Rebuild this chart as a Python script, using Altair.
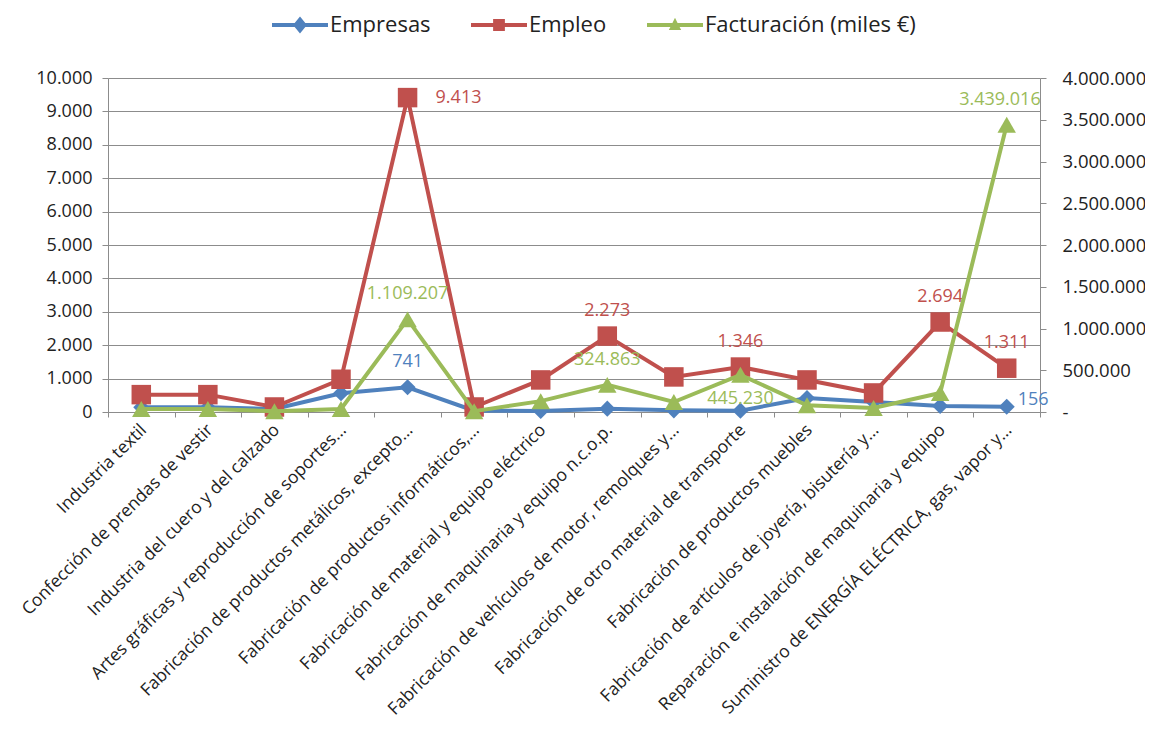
import altair as alt
import pandas as pd

FONT = "Open Sans"

categories = [
    "Industria textil",
    "Confección de prendas de vestir",
    "Industria del cuero y del calzado",
    "Artes gráficas y reproducción de soportes…",
    "Fabricación de productos metálicos, excepto…",
    "Fabricación de productos informáticos,…",
    "Fabricación de material y equipo eléctrico",
    "Fabricación de maquinaria y equipo n.c.o.p.",
    "Fabricación de vehículos de motor, remolques y…",
    "Fabricación de otro material de transporte",
    "Fabricación de productos muebles",
    "Fabricación de artículos de joyería, bisutería y…",
    "Reparación e instalación de maquinaria y equipo",
    "Suministro de ENERGÍA ELÉCTRICA, gas, vapor y…",
]
empresas = [140, 140, 90, 560, 741, 40, 30, 100, 50, 40, 420, 300, 180, 156]
empleo = [520, 520, 150, 980, 9413, 150, 960, 2273, 1050, 1346, 960, 570, 2694, 1311]
facturacion = [36000, 36000, 10000, 36000, 1109207, 10000, 130000, 324863,
               120000, 445230, 80000, 48000, 227000, 3439016]

series_names = ["Empresas", "Empleo", "Facturación (miles €)"]
series_colors = ["#4F81BD", "#C0504D", "#9BBB59"]
series_shapes = ["diamond", "square", "triangle-up"]
series_sizes = [260, 380, 340]

left_ticks = list(range(0, 10001, 1000))
right_ticks = list(range(0, 4000001, 500000))

# which points carry a data label, and where the label sits
data_labels = [
    ("Empresas", 4, "above"),
    ("Empresas", 13, "right"),
    ("Empleo", 4, "right-wide"),
    ("Empleo", 7, "above"),
    ("Empleo", 9, "above"),
    ("Empleo", 12, "above"),
    ("Empleo", 13, "above"),
    ("Facturación (miles €)", 4, "above"),
    ("Facturación (miles €)", 7, "above"),
    ("Facturación (miles €)", 9, "below"),
    ("Facturación (miles €)", 13, "above-left"),
]

values_by_series = {"Empresas": empresas, "Empleo": empleo,
                    "Facturación (miles €)": facturacion}
label_pos = {(s, i): p for s, i, p in data_labels}
rows = []
for s in series_names:
    for i, c in enumerate(categories):
        rows.append({"cat": c, "serie": s, "value": values_by_series[s][i],
                     "pos": label_pos.get((s, i), "")})
df = pd.DataFrame(rows)

GRID = "#8c8c8c"
TXT = "#222222"
dot_fmt = "replace(format(datum.value, ','), /,/g, '.')"

color_scale = alt.Scale(domain=series_names, range=series_colors)

x_enc = alt.X(
    "cat:N", sort=categories, title=None, bandPosition=0.5,
    scale=alt.Scale(type="band", paddingInner=0, paddingOuter=0),
    axis=alt.Axis(labelAngle=-45, labelAlign="right", labelBaseline="middle",
                  labelLimit=700, labelOverlap=False, tickBand="extent",
                  tickSize=5, labelPadding=10, labelOffset=2, grid=False,
                  domainColor=GRID, tickColor=GRID, labelFontSize=17.5,
                  labelFont=FONT, labelColor=TXT),
)
y_left = alt.Y(
    "value:Q", title=None,
    scale=alt.Scale(domain=[0, 10000], nice=False),
    axis=alt.Axis(values=left_ticks, labelExpr=dot_fmt, grid=True,
                  gridColor=GRID, gridWidth=1, tickSize=6, labelPadding=10,
                  domainColor=GRID, tickColor=GRID, labelFontSize=18,
                  labelFont=FONT, labelColor=TXT),
)
y_right = alt.Y(
    "value:Q", title=None,
    scale=alt.Scale(domain=[0, 4000000], nice=False),
    axis=alt.Axis(orient="right", values=right_ticks,
                  labelExpr="datum.value == 0 ? '-' : " + dot_fmt,
                  grid=False, tickSize=6, labelPadding=16,
                  domainColor=GRID, tickColor=GRID, labelFontSize=18.5,
                  labelFont=FONT, labelColor=TXT),
)

# legend symbols: a line with the series marker on it
legend_paths = [
    "M-1,-0.07L-0.19,-0.07L0,-0.3L0.19,-0.07L1,-0.07L1,0.07L0.19,0.07L0,0.3L-0.19,0.07L-1,0.07Z",
    "M-1,-0.07L-0.21,-0.07L-0.21,-0.21L0.21,-0.21L0.21,-0.07L1,-0.07L1,0.07L0.21,0.07L0.21,0.21L-0.21,0.21L-0.21,0.07L-1,0.07Z",
    "M-1,-0.07L-0.092,-0.07L0,-0.26L0.092,-0.07L1,-0.07L1,0.07L0.164,0.07L0.22,0.18L-0.22,0.18L-0.164,0.07L-1,0.07Z",
]

legend = alt.Legend(
    orient="none", legendX=164, legendY=-81, direction="horizontal",
    title=None, symbolSize=3136, labelFontSize=22, labelFont=FONT,
    labelColor=TXT, labelOffset=2, labelLimit=400, columnPadding=40,
    padding=0, symbolStrokeWidth=0, symbolOpacity=1,
)


def series_layers(idx, y_enc):
    name = series_names[idx]
    base = alt.Chart(df).transform_filter(alt.datum.serie == name).encode(x=x_enc, y=y_enc)
    line = base.mark_line(strokeWidth=4).encode(
        color=alt.Color("serie:N", scale=color_scale, legend=None))
    pts = base.mark_point(filled=True, opacity=1, shape=series_shapes[idx],
                          size=series_sizes[idx], strokeWidth=0).encode(
        color=alt.Color("serie:N", scale=color_scale, legend=None))
    return [line, pts]


def text_layers(idx, y_enc):
    name = series_names[idx]
    base = (alt.Chart(df)
            .transform_filter(alt.datum.serie == name)
            .transform_filter(alt.datum.pos != "")
            .transform_calculate(txt=dot_fmt)
            .encode(x=x_enc, y=y_enc, text="txt:N",
                    color=alt.Color("serie:N", scale=color_scale, legend=None)))
    styles = {
        "above": dict(dy=-25, align="center"),
        "below": dict(dy=24, align="center"),
        "right": dict(dx=11, dy=-7, align="left"),
        "right-wide": dict(dx=28, align="left"),
        "above-left": dict(dx=34, dy=-25, align="right"),
    }
    out = []
    for p, st in styles.items():
        out.append(base.transform_filter(alt.datum.pos == p).mark_text(
            font=FONT, fontSize=18, baseline="middle", **st))
    return out


# an empty layer that only carries the legend (placed first so it wins the merge)
legend_layer = (
    alt.Chart(df)
    .transform_filter("datum.value < 0")
    .mark_point(filled=True, opacity=1, strokeWidth=0)
    .encode(
        x=x_enc, y=y_left,
        color=alt.Color("serie:N", scale=color_scale, legend=legend),
        shape=alt.Shape("serie:N", scale=alt.Scale(domain=series_names, range=legend_paths),
                        legend=legend),
    )
)

left = alt.layer(*([legend_layer] + series_layers(0, y_left) + series_layers(1, y_left)
                   + text_layers(0, y_left) + text_layers(1, y_left)))
right = alt.layer(*(series_layers(2, y_right) + text_layers(2, y_right)))

chart = (
    alt.layer(left, right)
    .resolve_scale(y="independent")
    .properties(width=932, height=334,
                autosize=alt.AutoSizeParams(type="none"),
                padding={"left": 100, "top": 70, "right": 105, "bottom": 313},
                background="white")
    .configure_view(stroke=None)
)

chart.save("out.html", embed_options={"renderer": "svg", "actions": False})
